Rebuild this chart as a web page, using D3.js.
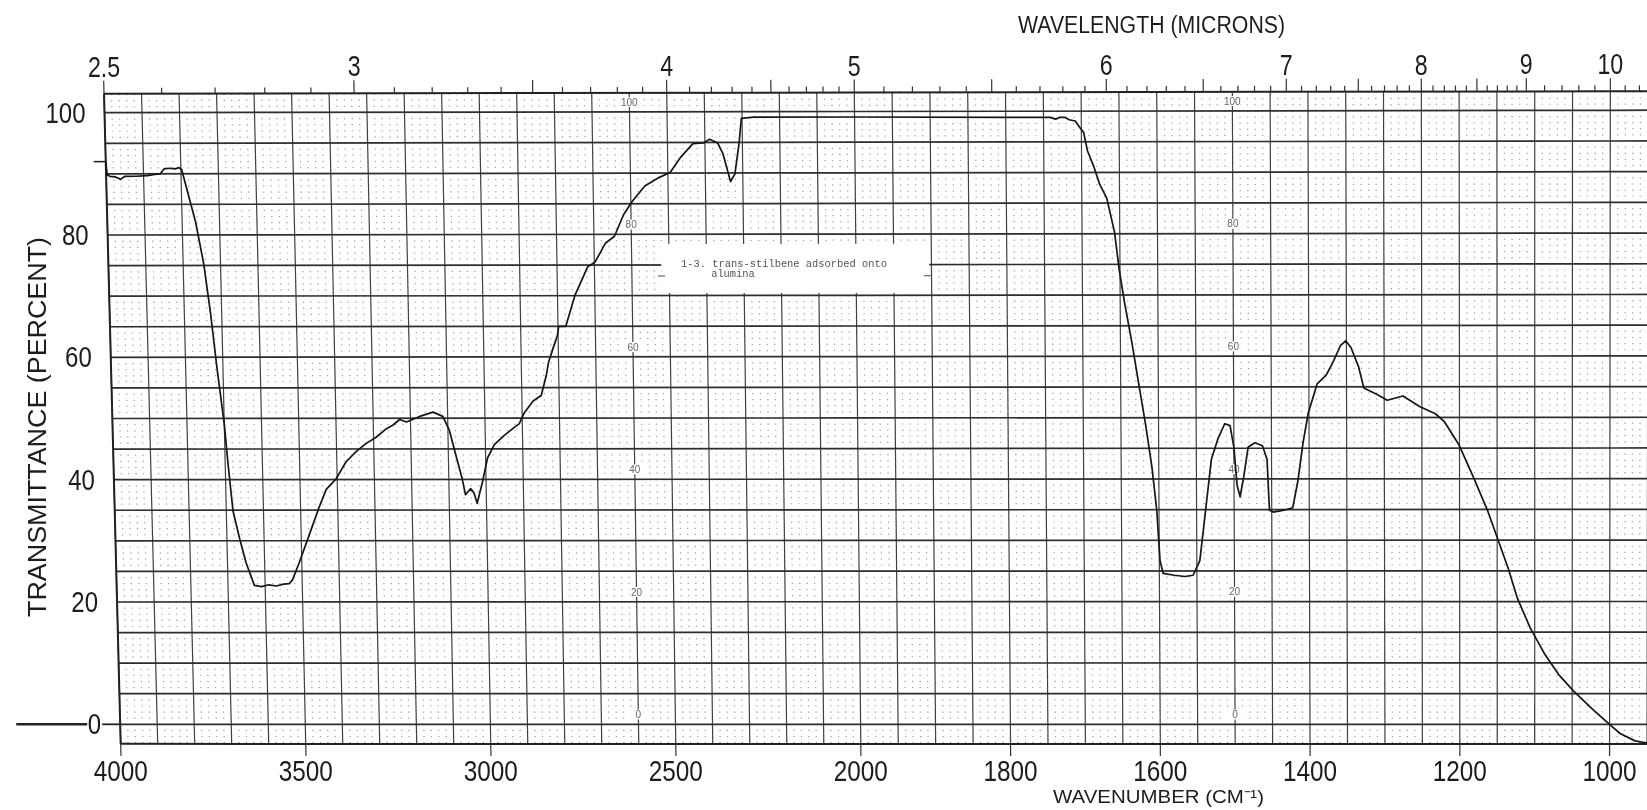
<!DOCTYPE html>
<html>
<head>
<meta charset="utf-8">
<script src="https://cdn.jsdelivr.net/npm/d3@7"></script>
<style>
  html, body { margin: 0; padding: 0; background: #fff; }
  svg { display: block; }
</style>
</head>
<body>
<svg id="chart" width="1647" height="810"></svg>
<script>
// Infrared spectrum of trans-stilbene adsorbed onto alumina,
// drawn on a ruled chart paper (transmittance vs. wavenumber).

// spectrum trace: wavenumber (cm-1) and transmittance (%)
const wavenumber = [
  4000, 3997, 3990, 3975, 3962, 3950, 3920, 3890, 3870, 3855, 3845, 3830, 3815, 3805, 3798,
  3764, 3745, 3730, 3716, 3700, 3692, 3682, 3666, 3650, 3629, 3610, 3590, 3570, 3550, 3535,
  3526, 3507, 3478, 3450, 3430, 3403, 3375, 3347, 3320, 3293, 3265, 3247, 3229, 3211, 3175,
  3139, 3113, 3096, 3080, 3064, 3056, 3042, 3033, 3025, 3010, 2995, 2976, 2949, 2926, 2908,
  2894, 2870, 2848, 2833, 2827, 2813, 2802, 2798, 2779, 2753, 2718, 2698, 2669, 2645, 2620,
  2596, 2562, 2523, 2494, 2465, 2432, 2404, 2387, 2366, 2352, 2338, 2333, 2321, 2309, 2302,
  2269, 2000, 1800, 1741, 1734, 1728, 1722, 1716, 1708, 1703, 1697, 1692, 1684, 1676, 1667,
  1657, 1651, 1644, 1635, 1626, 1617, 1609, 1603, 1599, 1595, 1580, 1566, 1555, 1546, 1538,
  1530, 1521, 1512, 1505, 1500, 1496, 1492, 1487, 1481, 1472, 1462, 1456, 1453, 1448, 1434,
  1422, 1415, 1408, 1401, 1389, 1377, 1368, 1358, 1351, 1344, 1334, 1327, 1310, 1296, 1275,
  1253, 1232, 1220, 1201, 1182, 1163, 1149, 1135, 1123, 1106, 1087, 1068, 1048, 1024, 1005,
  986, 966, 952, 938
];
const transmittance = [
  92.0, 89.8, 89.6, 89.5, 89.1, 89.6, 89.6, 89.7, 89.9, 90.0, 90.8, 90.9, 90.8, 91.0, 90.7,
  82.1, 75.3, 67.3, 58.2, 49.1, 42.3, 34.9, 30.4, 26.4, 22.7, 22.5, 22.8, 22.6, 22.9, 23.0,
  23.6, 26.4, 31.0, 35.5, 38.4, 40.1, 42.9, 44.6, 45.9, 46.9, 48.3, 48.9, 49.8, 49.4, 50.3,
  51.0, 50.3, 48.0, 44.0, 40.1, 37.5, 38.5, 37.8, 36.1, 39.5, 43.5, 45.7, 47.2, 48.3, 49.1,
  50.9, 52.8, 53.7, 57.1, 59.1, 61.6, 63.5, 65.0, 65.0, 70.1, 74.7, 75.5, 78.6, 79.7, 83.2,
  85.4, 87.9, 89.3, 90.1, 92.6, 94.8, 94.9, 95.5, 94.9, 93.1, 89.8, 88.6, 89.8, 94.8, 98.9,
  99.1, 99.1, 99.0, 99.0, 98.7, 99.0, 99.0, 98.6, 98.4, 97.5, 96.5, 93.5, 91.0, 88.0, 85.8,
  80.3, 74.1, 68.6, 62.4, 55.5, 48.7, 41.8, 34.9, 26.7, 24.6, 24.3, 24.1, 24.3, 26.7, 34.9,
  43.2, 46.6, 49.0, 48.7, 45.2, 39.0, 37.1, 40.4, 45.2, 45.9, 45.4, 43.2, 34.9, 34.6, 34.9,
  35.3, 39.7, 45.9, 50.7, 55.5, 56.9, 59.0, 61.7, 62.5, 61.4, 58.3, 54.8, 53.8, 52.8, 53.5,
  51.8, 50.6, 49.3, 45.6, 40.4, 34.9, 30.1, 25.3, 20.5, 15.7, 11.5, 8.1, 5.4, 2.6, 0.5,
  -1.5, -2.7, -3.0, -3.1
];

// axis tick labels
const wavenumberLabels = [4000, 3500, 3000, 2500, 2000, 1800, 1600, 1400, 1200, 1000];
const micronLabels = [2.5, 3, 4, 5, 6, 7, 8, 9, 10];
const percentLabels = [100, 80, 60, 40, 20, 0];
// columns where the paper repeats its own percent scale
const paperScaleColumns = [2600, 1500];
const noteLines = ["1-3. trans-stilbene adsorbed onto", "alumina"];

const svg = d3.select("#chart");

// Chart paper: 4000-2000 cm-1 at half the scale of 2000-1000 cm-1.
// The sheet is slightly sheared, so x is taken along the 0 % and 100 % rules
// and blended by transmittance.
const xLo = d3.scaleLinear().domain([4000, 2000, 1000]).range([120.2, 860.6, 1609.6]);
const xHi = d3.scaleLinear().domain([4000, 2000, 1000]).range([104.5, 854.5, 1610.3]);
const yLeft = d3.scaleLinear().domain([0, 100]).range([724.3, 112.7]);
const yRight = d3.scaleLinear().domain([0, 100]).range([724.3, 110.3]);
const span = xLo(1000) - xLo(4000);
function pt(w, t) {
  const a = t / 100;
  const f = (xLo(w) - xLo(4000)) / span;
  return [xLo(w) + (xHi(w) - xLo(w)) * a, yLeft(t) + (yRight(t) - yLeft(t)) * f];
}

const T_TOP = 103.1, T_BOT = -3.2, W_END = 936;

const defs = svg.append("defs");
defs.append("filter").attr("id", "soft")
  .append("feGaussianBlur").attr("stdDeviation", 0.4);

const root = svg.append("g").attr("filter", "url(#soft)");
root.append("rect").attr("width", 1647).attr("height", 810).attr("fill", "#fff");

const line = d3.line();

// ---- dotted 1 % ruling ----
const dotCols = [];
for (let w = 4000; w > 2000; w -= 20) if (w % 100 !== 0) dotCols.push(w);
for (let w = 2000; w >= W_END; w -= 10) if (w % 50 !== 0) dotCols.push(w);
const dots = root.append("g").attr("stroke", "#a2a2a2").attr("stroke-width", 1.3);
dotCols.forEach(w => {
  const per = (pt(w, 0)[1] - pt(w, 100)[1]) / 100;
  const t0 = -3 - 0.6 / per;
  dots.append("path")
    .attr("d", line([pt(w, t0), pt(w, T_TOP)]))
    .attr("stroke-dasharray", `1.2 ${(per - 1.2).toFixed(3)}`);
});

// ---- vertical rules ----
const vCols = [];
for (let w = 4000; w >= 2000; w -= 100) vCols.push(w);
for (let w = 1950; w >= W_END; w -= 50) vCols.push(w);
const vg = root.append("g").attr("stroke", "#404040").attr("stroke-width", 1.2).attr("fill", "none");
vCols.forEach(w => vg.append("path").attr("d", line([pt(w, T_BOT), pt(w, T_TOP)])));

// ---- horizontal rules every 5 % ----
const hg = root.append("g").attr("stroke", "#2e2e2e").attr("stroke-width", 1.7).attr("fill", "none");
const rowKnots = [4000, 2000, 1000, W_END];
d3.range(0, 101, 5).forEach(t => hg.append("path").attr("d", line(rowKnots.map(w => pt(w, t)))));

// ---- frame ----
const fg = root.append("g").attr("stroke", "#222").attr("stroke-width", 2).attr("fill", "none");
fg.append("path").attr("d", line(rowKnots.map(w => pt(w, T_TOP))));
fg.append("path").attr("d", line(rowKnots.map(w => pt(w, T_BOT))));
fg.append("path").attr("d", line([pt(4000, T_BOT), pt(4000, T_TOP)]));

// ---- note label pasted on the sheet ----
const boxPts = [pt(2521, 78.4), pt(1903, 78.4), pt(1903, 70.4), pt(2521, 70.4)];
root.append("path").attr("d", line(boxPts) + "Z").attr("fill", "#fff");
const dashL = pt(2525, 73.2), dashR = pt(1905, 73.2);
root.append("path").attr("d", line([[dashL[0] - 2, dashL[1]], [dashL[0] + 5, dashL[1]]]))
  .attr("stroke", "#666").attr("stroke-width", 1.2);
root.append("path").attr("d", line([[dashR[0] - 4, dashR[1]], [dashR[0] + 3, dashR[1]]]))
  .attr("stroke", "#666").attr("stroke-width", 1.2);
const n1 = pt(2468, 74.7), n2 = pt(2388, 73.1);
[[noteLines[0], n1], [noteLines[1], [n2[0], n1[1] + 10]]].forEach(([s, p]) => {
  root.append("text").attr("x", p[0]).attr("y", p[1])
    .attr("font-family", "Liberation Mono, DejaVu Sans Mono, monospace")
    .attr("font-size", 10.4).attr("fill", "#555").text(s);
});

// ---- paper's own small percent figures ----
paperScaleColumns.forEach(w => {
  percentLabels.forEach(p => {
    const [x, y] = pt(w, p + 1.6);
    root.append("rect").attr("x", x - 8).attr("y", y - 5).attr("width", 16).attr("height", 10).attr("fill", "#fff");
    root.append("text").attr("x", x).attr("y", y + 3.5).attr("text-anchor", "middle")
      .attr("font-family", "Liberation Sans, Arial, sans-serif").attr("font-size", 10)
      .attr("fill", "#666").text(p);
  });
});

// ---- wavelength ticks along the top ----
const microns = [];
for (let i = 25; i <= 90; i++) microns.push(i / 10);
for (let i = 92; i <= 104; i += 2) microns.push(i / 10);
const tg = root.append("g").attr("stroke", "#333").attr("stroke-width", 1.2);
microns.forEach(m => {
  const w = 1e4 / m;
  const major = Math.abs(m * 2 - Math.round(m * 2)) < 1e-6;
  const len = major ? 13 : 6;
  const a = pt(w, T_TOP), b = pt(w, T_TOP + len / 6.12);
  tg.append("path").attr("d", line([a, b]));
});

const bigFont = "Liberation Sans, Arial, sans-serif";
function bigText(x, y, s, size, anchor, sx) {
  root.append("text")
    .attr("transform", `translate(${x},${y}) scale(${sx},1)`)
    .attr("text-anchor", anchor)
    .attr("font-family", bigFont).attr("font-size", size).attr("fill", "#1e1e1e")
    .text(s);
}

micronLabels.forEach(m => {
  const [x, y] = pt(1e4 / m, T_TOP);
  bigText(x, y - 17, String(m), 29, "middle", 0.8);
});

// ---- wavenumber ticks and labels along the bottom ----
const bg = root.append("g").attr("stroke", "#333").attr("stroke-width", 1.2);
wavenumberLabels.forEach(w => {
  const a = pt(w, T_BOT), b = pt(w, T_BOT - 12 / 6.12);
  bg.append("path").attr("d", line([a, b]));
  bigText(a[0], a[1] + 37, String(w), 29, "middle", 0.84);
});

// ---- percent labels on the left ----
percentLabels.forEach(p => {
  const [x, y] = pt(4000, p);
  bigText(x - 19, y + 10, String(p), 30, "end", 0.8);
});
{
  const [x0, y0] = pt(4000, 0);
  root.append("path").attr("d", line([[x0 - 104, y0], [x0 - 33, y0]]))
    .attr("stroke", "#222").attr("stroke-width", 2.6);
  root.append("path").attr("d", line([[x0 - 18, y0], [x0, y0]]))
    .attr("stroke", "#222").attr("stroke-width", 1.8);
}

// ---- axis titles ----
root.append("text").attr("x", 1018).attr("y", 33)
  .attr("font-family", bigFont).attr("font-size", 23).attr("fill", "#1e1e1e")
  .attr("textLength", 267).attr("lengthAdjust", "spacingAndGlyphs")
  .text("WAVELENGTH (MICRONS)");
root.append("text").attr("transform", "translate(46,427) rotate(-90)")
  .attr("text-anchor", "middle")
  .attr("font-family", bigFont).attr("font-size", 25).attr("fill", "#1e1e1e")
  .attr("textLength", 380).attr("lengthAdjust", "spacingAndGlyphs")
  .text("TRANSMITTANCE (PERCENT)");
root.append("text").attr("x", 1053).attr("y", 803)
  .attr("font-family", bigFont).attr("font-size", 19).attr("fill", "#1e1e1e")
  .attr("textLength", 211).attr("lengthAdjust", "spacingAndGlyphs")
  .text("WAVENUMBER (CM\u207B\u00B9)");

// ---- spectrum trace ----
const tracePts = wavenumber.map((w, i) => pt(w, transmittance[i]));
const pen = pt(4000, 92);
root.append("path").attr("d", line([[pen[0] - 12, pen[1]], pen]))
  .attr("stroke", "#1a1a1a").attr("stroke-width", 1.5);
root.append("path").attr("d", line(tracePts))
  .attr("fill", "none").attr("stroke", "#151515").attr("stroke-width", 1.7)
  .attr("stroke-linejoin", "round");
</script>
</body>
</html>
